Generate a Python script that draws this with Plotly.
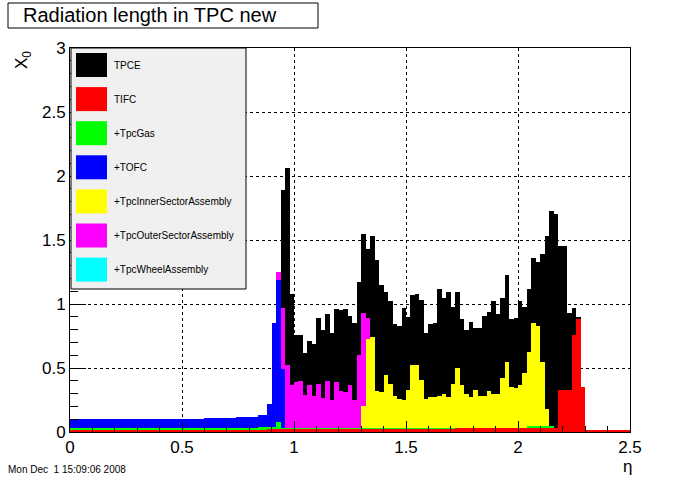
import plotly.graph_objects as go

# ---------------- data (cumulative histograms, as drawn by ROOT THStack) -------------
ETA_MIN = 0.0
BIN_WIDTH = 0.02
N_BINS = 125

legend_labels = ["TPCE", "TIFC", "+TpcGas", "+TOFC", "+TpcInnerSectorAssembly",
                 "+TpcOuterSectorAssembly", "+TpcWheelAssembly"]
legend_colors = ["#000000", "#ff0000", "#00ff00", "#0000ff", "#ffff00", "#ff00ff", "#00ffff"]

x_tick_vals = [0, 0.5, 1, 1.5, 2, 2.5]
x_tick_text = ["0", "0.5", "1", "1.5", "2", "2.5"]
y_tick_vals = [0, 0.5, 1, 1.5, 2, 2.5, 3]
y_tick_text = ["0", "0.5", "1", "1.5", "2", "2.5", "3"]

tifc = [
    0.018, 0.018, 0.018, 0.018, 0.018, 0.018, 0.018, 0.018, 0.018, 0.018,
    0.018, 0.018, 0.018, 0.018, 0.018, 0.018, 0.018, 0.018, 0.018, 0.018,
    0.018, 0.018, 0.018, 0.018, 0.018, 0.018, 0.018, 0.018, 0.018, 0.018,
    0.018, 0.018, 0.018, 0.018, 0.018, 0.018, 0.018, 0.018, 0.018, 0.018,
    0.018, 0.018, 0.018, 0.018, 0.022, 0.022, 0.022, 0.022, 0.022, 0.022,
    0.022, 0.022, 0.022, 0.022, 0.022, 0.022, 0.022, 0.022, 0.022, 0.022,
    0.022, 0.022, 0.022, 0.022, 0.022, 0.022, 0.022, 0.022, 0.022, 0.022,
    0.022, 0.022, 0.022, 0.022, 0.022, 0.022, 0.022, 0.022, 0.022, 0.022,
    0.022, 0.022, 0.022, 0.022, 0.022, 0.022, 0.035, 0.035, 0.035, 0.035,
    0.035, 0.035, 0.035, 0.035, 0.035, 0.035, 0.035, 0.035, 0.035, 0.035,
    0.035, 0.035, 0.035, 0.035, 0.035, 0.035, 0.035, 0.035, 0.035, 0.33,
    0.33, 0.33, 0.76, 0.88, 0.35, 0.014, 0.014, 0.014, 0.014, 0.014,
    0.014, 0.014, 0.014, 0.014, 0.014,
]

tpc_gas = [
    0.032, 0.032, 0.032, 0.032, 0.032, 0.032, 0.032, 0.032, 0.032, 0.032,
    0.032, 0.032, 0.032, 0.032, 0.032, 0.032, 0.032, 0.032, 0.032, 0.032,
    0.032, 0.032, 0.032, 0.032, 0.032, 0.032, 0.032, 0.032, 0.032, 0.032,
    0.032, 0.032, 0.032, 0.032, 0.032, 0.032, 0.032, 0.032, 0.032, 0.032,
    0.032, 0.032, 0.042, 0.042, 0.042, 0.042, 0.078, 0.034, 0.034, 0.034,
    0.034, 0.034, 0.034, 0.034, 0.034, 0.034, 0.034, 0.034, 0.034, 0.034,
    0.034, 0.034, 0.034, 0.034, 0.034, 0.034, 0.034, 0.034, 0.034, 0.034,
    0.034, 0.034, 0.034, 0.034, 0.034, 0.034, 0.034, 0.034, 0.034, 0.034,
    0.034, 0.034, 0.034, 0.034, 0.034, 0.034, 0.035, 0.035, 0.035, 0.035,
    0.035, 0.035, 0.035, 0.035, 0.035, 0.035, 0.035, 0.035, 0.035, 0.035,
    0.035, 0.035, 0.045, 0.045, 0.045, 0.045, 0.045, 0.045, 0.035, 0.33,
    0.33, 0.33, 0.76, 0.88, 0.35, 0.014, 0.014, 0.014, 0.014, 0.014,
    0.014, 0.014, 0.014, 0.014, 0.014,
]

tofc = [
    0.099, 0.099, 0.099, 0.099, 0.099, 0.099, 0.099, 0.099, 0.099, 0.099,
    0.099, 0.099, 0.099, 0.099, 0.099, 0.099, 0.099, 0.099, 0.099, 0.099,
    0.104, 0.104, 0.104, 0.104, 0.104, 0.104, 0.104, 0.104, 0.104, 0.104,
    0.112, 0.112, 0.112, 0.112, 0.112, 0.112, 0.112, 0.120, 0.120, 0.120,
    0.120, 0.120, 0.130, 0.130, 0.216, 0.850, 1.190, 0.490, 0.034, 0.034,
    0.034, 0.034, 0.034, 0.034, 0.034, 0.034, 0.034, 0.034, 0.034, 0.034,
    0.034, 0.034, 0.034, 0.034, 0.034, 0.034, 0.034, 0.034, 0.034, 0.034,
    0.034, 0.034, 0.034, 0.034, 0.034, 0.034, 0.034, 0.034, 0.034, 0.034,
    0.034, 0.034, 0.034, 0.034, 0.034, 0.034, 0.035, 0.035, 0.035, 0.035,
    0.035, 0.035, 0.035, 0.035, 0.035, 0.035, 0.035, 0.035, 0.035, 0.035,
    0.035, 0.035, 0.045, 0.045, 0.045, 0.045, 0.045, 0.045, 0.035, 0.33,
    0.33, 0.33, 0.76, 0.88, 0.35, 0.014, 0.014, 0.014, 0.014, 0.014,
    0.014, 0.014, 0.014, 0.014, 0.014,
]

tpc_inner = [
    0.099, 0.099, 0.099, 0.099, 0.099, 0.099, 0.099, 0.099, 0.099, 0.099,
    0.099, 0.099, 0.099, 0.099, 0.099, 0.099, 0.099, 0.099, 0.099, 0.099,
    0.104, 0.104, 0.104, 0.104, 0.104, 0.104, 0.104, 0.104, 0.104, 0.104,
    0.112, 0.112, 0.112, 0.112, 0.112, 0.112, 0.112, 0.120, 0.120, 0.120,
    0.120, 0.120, 0.130, 0.130, 0.216, 0.850, 1.190, 0.490, 0.034, 0.034,
    0.034, 0.034, 0.034, 0.034, 0.034, 0.034, 0.034, 0.034, 0.034, 0.034,
    0.034, 0.034, 0.034, 0.034, 0.034, 0.200, 0.730, 0.740, 0.320, 0.310,
    0.445, 0.375, 0.280, 0.260, 0.250, 0.330, 0.520, 0.520, 0.410, 0.260,
    0.270, 0.270, 0.280, 0.300, 0.270, 0.375, 0.500, 0.370, 0.300, 0.270,
    0.330, 0.280, 0.280, 0.320, 0.300, 0.300, 0.420, 0.550, 0.350, 0.340,
    0.370, 0.460, 0.625, 0.850, 0.830, 0.550, 0.180, 0.045, 0.035, 0.33,
    0.33, 0.33, 0.76, 0.88, 0.35, 0.014, 0.014, 0.014, 0.014, 0.014,
    0.014, 0.014, 0.014, 0.014, 0.014,
]

tpc_outer = [
    0.099, 0.099, 0.099, 0.099, 0.099, 0.099, 0.099, 0.099, 0.099, 0.099,
    0.099, 0.099, 0.099, 0.099, 0.099, 0.099, 0.099, 0.099, 0.099, 0.099,
    0.104, 0.104, 0.104, 0.104, 0.104, 0.104, 0.104, 0.104, 0.104, 0.104,
    0.112, 0.112, 0.112, 0.112, 0.112, 0.112, 0.112, 0.120, 0.120, 0.120,
    0.120, 0.120, 0.130, 0.130, 0.216, 0.850, 1.250, 0.969, 0.520, 0.370,
    0.390, 0.400, 0.290, 0.367, 0.280, 0.375, 0.266, 0.400, 0.250, 0.390,
    0.320, 0.310, 0.367, 0.250, 0.600, 0.930, 0.890, 0.740, 0.320, 0.310,
    0.445, 0.375, 0.280, 0.260, 0.250, 0.330, 0.520, 0.520, 0.410, 0.260,
    0.270, 0.270, 0.280, 0.300, 0.270, 0.375, 0.500, 0.370, 0.300, 0.270,
    0.330, 0.280, 0.280, 0.320, 0.300, 0.300, 0.420, 0.550, 0.350, 0.340,
    0.370, 0.460, 0.625, 0.850, 0.830, 0.550, 0.180, 0.045, 0.035, 0.33,
    0.33, 0.33, 0.76, 0.88, 0.35, 0.014, 0.014, 0.014, 0.014, 0.014,
    0.014, 0.014, 0.014, 0.014, 0.014,
]

# the wheel assembly adds nothing visible on top of the outer sectors
tpc_wheel = list(tpc_outer)

tpce = [
    0.099, 0.099, 0.099, 0.099, 0.099, 0.099, 0.099, 0.099, 0.099, 0.099,
    0.099, 0.099, 0.099, 0.099, 0.099, 0.099, 0.099, 0.099, 0.099, 0.099,
    0.104, 0.104, 0.104, 0.104, 0.104, 0.104, 0.104, 0.104, 0.104, 0.104,
    0.112, 0.112, 0.112, 0.112, 0.112, 0.112, 0.112, 0.120, 0.120, 0.120,
    0.120, 0.120, 0.130, 0.130, 0.216, 0.850, 1.250, 1.890, 2.060, 1.080,
    0.760, 0.760, 0.620, 0.710, 0.690, 0.890, 0.800, 0.920, 0.770, 0.960,
    0.950, 0.960, 0.910, 0.850, 1.170, 1.550, 1.430, 1.530, 1.340, 1.150,
    1.090, 1.020, 0.840, 0.830, 0.970, 0.900, 1.070, 1.080, 1.030, 0.770,
    0.840, 0.850, 1.120, 1.050, 1.090, 0.980, 1.090, 0.880, 0.800, 0.860,
    0.810, 0.810, 0.910, 0.940, 1.020, 0.920, 1.050, 1.230, 0.880, 0.890,
    1.020, 0.980, 1.120, 1.360, 1.330, 1.390, 1.530, 1.730, 1.700, 1.450,
    1.450, 0.930, 0.970, 0.900, 0.350, 0.014, 0.014, 0.014, 0.014, 0.014,
    0.014, 0.014, 0.014, 0.014, 0.014,
]

# ---------------- figure -------------
eta_centers = [ETA_MIN + (i + 0.5) * BIN_WIDTH for i in range(N_BINS)]

FONT = "Liberation Sans, Arial, Helvetica, sans-serif"

# draw order: total first, then the cumulative histograms from largest to smallest
draw_series = [
    (tpce, legend_colors[0], legend_labels[0]),
    (tpc_wheel, legend_colors[6], legend_labels[6]),
    (tpc_outer, legend_colors[5], legend_labels[5]),
    (tpc_inner, legend_colors[4], legend_labels[4]),
    (tofc, legend_colors[3], legend_labels[3]),
    (tpc_gas, legend_colors[2], legend_labels[2]),
    (tifc, legend_colors[1], legend_labels[1]),
]

fig = go.Figure()
for values, color, name in draw_series:
    fig.add_trace(go.Bar(
        x=eta_centers, y=values, width=BIN_WIDTH, name=name,
        marker=dict(color=color, line=dict(width=0)),
        showlegend=False,
    ))

W, H = 700, 480
L, R, T, B = 70, 70, 48, 48
PW, PH = W - L - R, H - T - B


def px(x):
    return (x - L) / PW


def py(y):
    return (H - B - y) / PH


shapes = []
annotations = []

# title box
shapes.append(dict(type="rect", xref="paper", yref="paper",
                   x0=px(8), x1=px(318), y0=py(28), y1=py(3),
                   line=dict(color="black", width=1), fillcolor="white", layer="above"))
annotations.append(dict(text="Radiation length in TPC new", xref="paper", yref="paper",
                        x=px(21), y=py(15.5), xanchor="left", yanchor="middle",
                        showarrow=False, font=dict(family=FONT, size=20, color="black")))

# legend box
shapes.append(dict(type="rect", xref="paper", yref="paper",
                   x0=px(71), x1=px(246), y0=py(289), y1=py(48),
                   line=dict(color="black", width=1), fillcolor="#f0f0f0", layer="above"))
for i, (lab, col) in enumerate(zip(legend_labels, legend_colors)):
    yc = 65 + 34.1 * i
    shapes.append(dict(type="rect", xref="paper", yref="paper",
                       x0=px(76), x1=px(107), y0=py(yc + 12), y1=py(yc - 12),
                       line=dict(width=0), fillcolor=col, layer="above"))
    annotations.append(dict(text=lab, xref="paper", yref="paper",
                            x=px(112), y=py(yc), xanchor="left", yanchor="middle",
                            showarrow=False, font=dict(family=FONT, size=10, color="black")))

# axis titles
annotations.append(dict(text="X<sub>0</sub>", xref="paper", yref="paper",
                        x=px(23), y=py(49), xanchor="center", yanchor="top", textangle=-90,
                        showarrow=False, font=dict(family=FONT, size=17, color="black")))
annotations.append(dict(text="η", xref="paper", yref="paper",
                        x=px(627), y=py(466), xanchor="center", yanchor="middle",
                        showarrow=False, font=dict(family=FONT, size=17, color="black")))
# date stamp
annotations.append(dict(text="Mon Dec  1 15:09:06 2008", xref="paper", yref="paper",
                        x=px(6), y=py(469), xanchor="left", yanchor="middle",
                        showarrow=False, font=dict(family=FONT, size=10, color="black")))

fig.update_layout(
    width=W, height=H,
    margin=dict(l=L, r=R, t=T, b=B, pad=0),
    paper_bgcolor="white", plot_bgcolor="white",
    barmode="overlay", bargap=0,
    font=dict(family=FONT, size=16, color="black"),
    shapes=shapes, annotations=annotations,
    showlegend=False,
)
fig.update_xaxes(
    range=[0, 2.5], tickvals=x_tick_vals, ticktext=x_tick_text,
    showline=True, mirror=True, linecolor="black", linewidth=1,
    ticks="inside", ticklen=11, tickcolor="black",
    minor=dict(dtick=0.1, tick0=0, ticks="inside", ticklen=6, tickcolor="black", showgrid=False),
    showgrid=True, gridcolor="black", griddash="3px,3px", gridwidth=1,
    zeroline=False, tickfont=dict(family=FONT, size=17),
)
fig.update_yaxes(
    range=[0, 3], tickvals=y_tick_vals, ticktext=y_tick_text,
    showline=True, mirror=True, linecolor="black", linewidth=1,
    ticks="inside", ticklen=16, tickcolor="black",
    minor=dict(dtick=0.1, tick0=0, ticks="inside", ticklen=8, tickcolor="black", showgrid=False),
    showgrid=True, gridcolor="black", griddash="3px,3px", gridwidth=1,
    zeroline=False, tickfont=dict(family=FONT, size=17),
)

fig.write_html("out.html", config={"displayModeBar": False},
               post_script="document.body.style.margin='0px';")
